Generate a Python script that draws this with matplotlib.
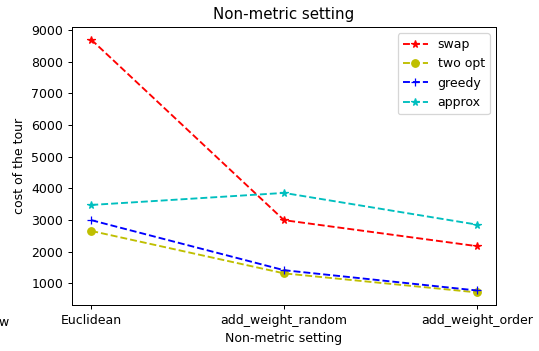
import matplotlib
matplotlib.use("Agg")
import matplotlib.pyplot as plt

categories = ["Euclidean", "add_weight_random", "add_weight_order"]
swap = [8700, 3000, 2180]
two_opt = [2660, 1320, 720]
greedy = [3000, 1420, 780]
approx = [3480, 3860, 2860]

DPI = 90
fig = plt.figure(figsize=(539/DPI, 351/DPI), dpi=DPI)
ax = fig.add_axes([72/539, 1-305/351, (496-72)/539, (305-27)/351])
x = list(range(len(categories)))
ax.plot(x, swap, 'r--*', label='swap')
ax.plot(x, two_opt, 'y--o', label='two opt')
ax.plot(x, greedy, 'b--+', label='greedy')
ax.plot(x, approx, 'c--*', label='approx')
ax.set_xticks(x)
ax.set_xticklabels(categories)
ax.set_xlabel("Non-metric setting")
ax.set_ylabel("cost of the tour")
ax.set_title("Non-metric setting")
ax.legend(loc='upper right')
fig.text(-0.003, 1-322/351, "w", va='center', ha='left', fontsize=10)
fig.savefig("out.png", dpi=DPI)
